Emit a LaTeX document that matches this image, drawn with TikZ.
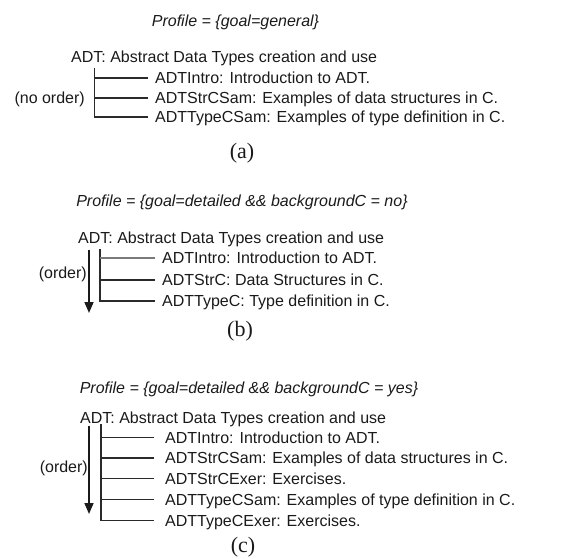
\documentclass[tikz,border=0pt]{standalone}
\usepackage{fontspec}
\setmainfont{Liberation Serif}
\newfontfamily\lsans{Liberation Sans}
\usetikzlibrary{arrows.meta}
\definecolor{ink}{HTML}{1A1A1A}
\definecolor{rule}{HTML}{2A2A2A}
\definecolor{softrule}{HTML}{7A7A7A}
\begin{document}
\begin{tikzpicture}[x=1pt,y=-1pt,
  txt/.style={font=\lsans\fontsize{16}{19}\selectfont, text=ink, inner sep=0pt,
              text height=11.5pt, text depth=0pt, anchor=west},
  prof/.style={txt, font=\lsans\itshape\fontsize{16}{19}\selectfont, anchor=center},
  sublabel/.style={font=\fontsize{22}{25}\selectfont, text=ink, inner sep=0pt, anchor=base},
  branchA/.style={draw=rule, line width=1.8pt},
  branch/.style={draw=rule, line width=1.1pt},
  orderarrow/.style={draw=ink, line width=1.6pt, -{Triangle[width=9pt,length=11pt]}}
]
\useasboundingbox (0,0) rectangle (570,559);

% ---- (a) general goal: unordered children
\node[prof] (pa) at (235.5,20.5) {Profile = \{goal=general\}};
\node[txt] (ra) at (71,57) {ADT: Abstract Data Types creation and use};
\node[txt] (a1) at (155,78) {ADTIntro: Introduction to ADT.};
\node[txt] (a2) at (155,98) {ADTStrCSam: Examples of data structures in C.};
\node[txt] (a3) at (155,117) {ADTTypeCSam: Examples of type definition in C.};
\node[txt, anchor=east] (na) at (85,98) {(no order)};
\node[sublabel] (la) at (242,158) {(a)};
\coordinate (ta) at (94.5,68);
\draw[branchA] (ta) -- (ta |- a3.west) -- ([xshift=-7pt]a3.west);
\draw[branchA] (ta |- a1.west) -- ([xshift=-7pt]a1.west);
\draw[branchA] (ta |- a2.west) -- ([xshift=-7pt]a2.west);

% ---- (b) detailed goal, no C background: ordered children
\node[prof] (pb) at (242,200.5) {Profile = \{goal=detailed \&\& backgroundC = no\}};
\node[txt] (rb) at (78,238) {ADT: Abstract Data Types creation and use};
\node[txt] (b1) at (162,258) {ADTIntro: Introduction to ADT.};
\node[txt] (b2) at (162,280) {ADTStrC: Data Structures in C.};
\node[txt] (b3) at (162,301) {ADTTypeC: Type definition in C.};
\node[txt, anchor=east] (ob) at (87,273) {(order)};
\node[sublabel] (lb) at (240,336) {(b)};
\coordinate (tb) at (100,249);
\coordinate (sb) at (89,250);
\coordinate (eb) at (89,313);
\draw[branch] (tb) -- (tb |- b3.west) -- ([xshift=-7pt]b3.west);
\draw[draw=softrule, line width=2.2pt] (tb |- b1.west) -- ([xshift=-7pt]b1.west);
\draw[branch] (tb |- b2.west) -- ([xshift=-7pt]b2.west);
\draw[orderarrow] (sb) -- (eb);

% ---- (c) detailed goal, C background: ordered children with exercises
\node[prof] (pc) at (249,387.5) {Profile = \{goal=detailed \&\& backgroundC = yes\}};
\node[txt] (rc) at (80,417.5) {ADT: Abstract Data Types creation and use};
\node[txt] (c1) at (165,437.5) {ADTIntro: Introduction to ADT.};
\node[txt] (c2) at (165,458) {ADTStrCSam: Examples of data structures in C.};
\node[txt] (c3) at (165,478.5) {ADTStrCExer: Exercises.};
\node[txt] (c4) at (165,499.5) {ADTTypeCSam: Examples of type definition in C.};
\node[txt] (c5) at (165,520.5) {ADTTypeCExer: Exercises.};
\node[txt, anchor=east] (oc) at (88,467) {(order)};
\node[sublabel] (lc) at (243,552) {(c)};
\coordinate (tc) at (101,424);
\coordinate (sc) at (89,426);
\coordinate (ec) at (89,514);
\draw[branch] (tc) -- (tc |- c5.west) -- ([xshift=-11pt]c5.west);
\foreach \k in {c1,c2,c3,c4}
  \draw[branch] (tc |- \k.west) -- ([xshift=-11pt]\k.west);
\draw[orderarrow] (sc) -- (ec);
\end{tikzpicture}
\end{document}
